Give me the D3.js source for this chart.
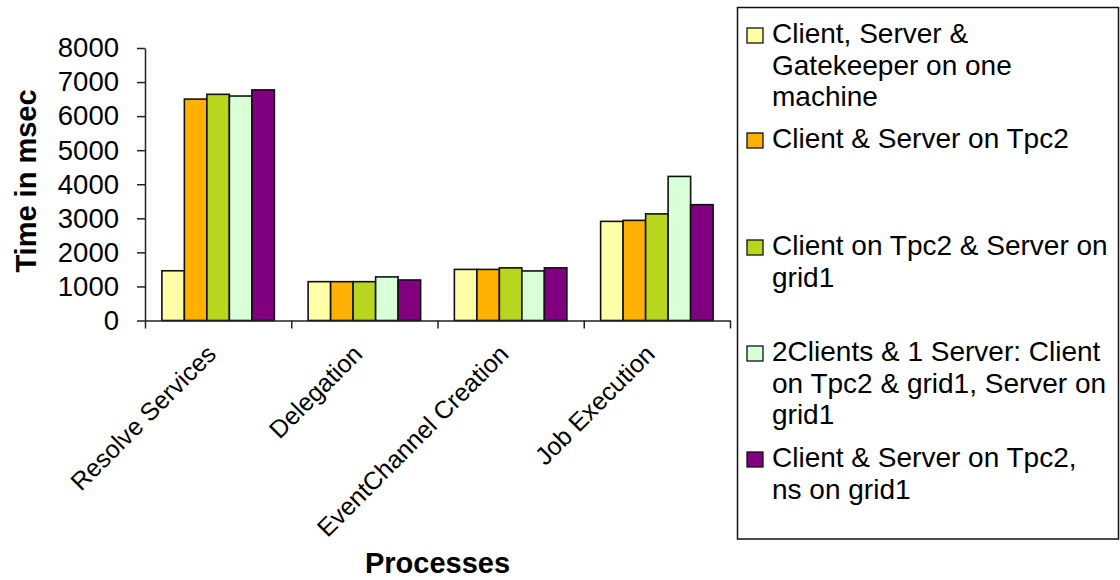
<!DOCTYPE html>
<html>
<head>
<meta charset="utf-8">
<script src="https://cdn.jsdelivr.net/npm/d3@7"></script>
<style>
  html, body { margin: 0; padding: 0; background: #fff; }
  svg { display: block; font-family: "Liberation Sans", Arial, sans-serif; }
</style>
</head>
<body>
<svg id="chart" width="1120" height="580"></svg>
<script>
// Processing stages (x categories)
const categories = ["Resolve Services", "Delegation", "EventChannel Creation", "Job Execution"];

// Deployment configurations (one bar per configuration in each stage)
const seriesNames = [
  "Client, Server & Gatekeeper on one machine",
  "Client & Server on Tpc2",
  "Client on Tpc2 & Server on grid1",
  "2Clients & 1 Server: Client on Tpc2 & grid1, Server on grid1",
  "Client & Server on Tpc2, ns on grid1"
];

// Legend text, wrapped as shown in the legend box
const legendLines = [
  ["Client, Server &", "Gatekeeper on one", "machine"],
  ["Client & Server on Tpc2"],
  ["Client on Tpc2 & Server on", "grid1"],
  ["2Clients & 1 Server: Client", "on Tpc2 & grid1, Server on", "grid1"],
  ["Client & Server on Tpc2,", "ns on grid1"]
];

// Time in msec, one array per configuration, ordered as categories
const oneMachine      = [1460, 1140, 1500, 2910];
const bothOnTpc2      = [6500, 1140, 1500, 2940];
const clientTpc2Grid1 = [6640, 1140, 1545, 3130];
const twoClients      = [6590, 1280, 1455, 4230];
const tpc2NsGrid1     = [6770, 1190, 1545, 3400];
const seriesValues = [oneMachine, bothOnTpc2, clientTpc2Grid1, twoClients, tpc2NsGrid1];

const seriesColors = ["#FFFFA8", "#FFB000", "#B9D61E", "#D8FFD8", "#800080"];

const yTicks = [0, 1000, 2000, 3000, 4000, 5000, 6000, 7000, 8000];

const svg = d3.select("#chart");

const plot = { left: 145, right: 730, top: 48, bottom: 320.5 };

const x0 = d3.scaleBand().domain(categories).range([plot.left, plot.right]).padding(0);
const x1 = d3.scaleBand().domain(d3.range(seriesNames.length))
  .range([0, x0.bandwidth()]).paddingInner(0).paddingOuter(0.75);
const y = d3.scaleLinear().domain([0, 8000]).range([plot.bottom, plot.top]);

// Bars
const groups = svg.append("g").selectAll("g")
  .data(categories)
  .join("g")
  .attr("transform", c => `translate(${x0(c)},0)`);

groups.selectAll("rect")
  .data((c, ci) => seriesValues.map((vals, si) => ({ si, v: vals[ci] })))
  .join("rect")
  .attr("x", d => x1(d.si))
  .attr("width", x1.bandwidth())
  .attr("y", d => y(d.v))
  .attr("height", d => y(0) - y(d.v))
  .attr("fill", d => seriesColors[d.si])
  .attr("stroke", "#111")
  .attr("stroke-width", 1.6);

// Y axis
const yAxis = svg.append("g")
  .attr("transform", `translate(${plot.left},0)`)
  .call(d3.axisLeft(y).tickValues(yTicks).tickSize(8).tickSizeOuter(0).tickPadding(18).tickFormat(d3.format("d")));
yAxis.selectAll("text").attr("font-size", 27.5).attr("fill", "#000").attr("font-family", "Liberation Sans, Arial, sans-serif");
yAxis.selectAll("line, path").attr("stroke", "#222").attr("stroke-width", 1.5);

// X axis with ticks between categories
const xEdges = d3.scaleLinear().domain([0, categories.length]).range([plot.left, plot.right]);
const xAxis = svg.append("g")
  .attr("transform", `translate(0,${plot.bottom})`)
  .call(d3.axisBottom(xEdges).tickValues(d3.range(categories.length + 1)).tickSize(8).tickSizeOuter(0).tickFormat(""));
xAxis.selectAll("line, path").attr("stroke", "#222").attr("stroke-width", 1.5);

// Rotated category labels
svg.append("g").selectAll("text")
  .data(categories)
  .join("text")
  .attr("transform", c => `translate(${x0(c) + x0.bandwidth() / 2 - 13},343) rotate(-45)`)
  .attr("text-anchor", "end")
  .attr("dy", "0.71em")
  .attr("font-size", 25)
  .attr("fill", "#000")
  .text(c => c);

// Axis titles
svg.append("text")
  .attr("transform", "translate(36,181) rotate(-90)")
  .attr("text-anchor", "middle")
  .attr("font-size", 29)
  .attr("font-weight", "bold")
  .text("Time in msec");

svg.append("text")
  .attr("x", (plot.left + plot.right) / 2)
  .attr("y", 573)
  .attr("text-anchor", "middle")
  .attr("font-size", 29)
  .attr("font-weight", "bold")
  .text("Processes");

// Legend
const legend = svg.append("g");
legend.append("rect")
  .attr("x", 737.5).attr("y", 7.5)
  .attr("width", 381).attr("height", 531.5)
  .attr("fill", "#fff").attr("stroke", "#111").attr("stroke-width", 1.5);

const entryBaselines = [43, 148, 255, 361, 467];
const lineGap = 31.5;

const entries = legend.selectAll("g.entry")
  .data(seriesNames)
  .join("g")
  .attr("class", "entry")
  .attr("transform", (d, i) => `translate(0,${entryBaselines[i]})`);

entries.append("rect")
  .attr("x", 747).attr("y", -15)
  .attr("width", 16).attr("height", 15)
  .attr("fill", (d, i) => seriesColors[i])
  .attr("stroke", "#111").attr("stroke-width", 1.3);

entries.append("text")
  .attr("font-size", 28)
  .attr("fill", "#000")
  .selectAll("tspan")
  .data((d, i) => legendLines[i])
  .join("tspan")
  .attr("x", 772)
  .attr("y", (d, j) => j * lineGap)
  .text(d => d);
</script>
</body>
</html>
